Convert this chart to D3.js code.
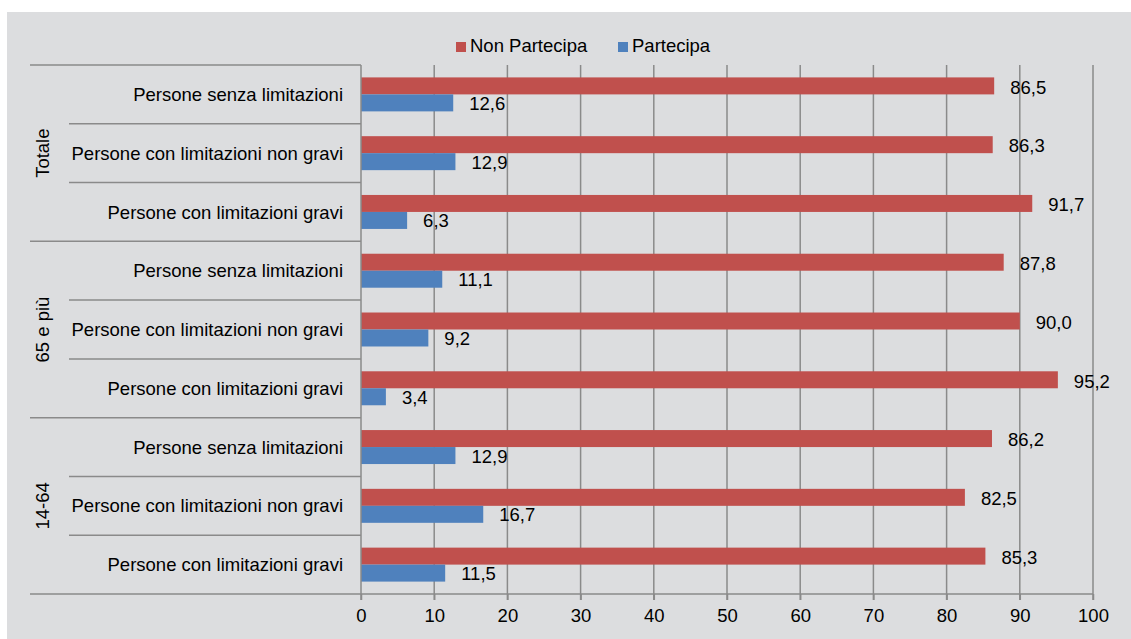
<!DOCTYPE html>
<html>
<head>
<meta charset="utf-8">
<script src="https://cdn.jsdelivr.net/npm/d3@7"></script>
<style>
  html, body { margin: 0; padding: 0; background: #ffffff; }
  svg { display: block; }
  text { font-family: "Liberation Sans", Arial, sans-serif; fill: #000; }
</style>
</head>
<body>
<svg id="chart" width="1131" height="639"></svg>
<script>
const groups = ["Totale", "65 e più", "14-64"];
const categories = [
  "Persone senza limitazioni",
  "Persone con limitazioni non gravi",
  "Persone con limitazioni gravi"
];
const seriesNames = ["Non Partecipa", "Partecipa"];
const seriesColors = ["#c0504d", "#4f81bd"];
const nonPartecipa = [86.5, 86.3, 91.7, 87.8, 90.0, 95.2, 86.2, 82.5, 85.3];
const partecipa    = [12.6, 12.9, 6.3, 11.1, 9.2, 3.4, 12.9, 16.7, 11.5];
const xTicks = [0, 10, 20, 30, 40, 50, 60, 70, 80, 90, 100];

(function () {
const rows = [];
groups.forEach((g, gi) => categories.forEach((c, ci) => {
  const i = gi * categories.length + ci;
  rows.push({ id: i, group: g, label: c, values: [nonPartecipa[i], partecipa[i]] });
}));

const svg = d3.select("#chart");
const W = 1131, H = 639;
const pL = 361, pR = 1093, pT = 65, pB = 594;
const fs = 18.5;
const gridColor = "#8a8a8a";

svg.append("rect").attr("x", 7).attr("y", 12).attr("width", W - 7).attr("height", H - 12).attr("fill", "#dcdddf");

const x = d3.scaleLinear().domain([0, 100]).range([pL, pR]);
const y = d3.scaleBand().domain(rows.map(d => d.id)).range([pT, pB]).paddingInner(0).paddingOuter(0);
const ySub = d3.scaleBand().domain([0, 1]).range([0, y.bandwidth()]).paddingInner(0).paddingOuter(0.73);

// gridlines
svg.append("g").selectAll("line").data(xTicks.filter(t => t > 0)).join("line")
  .attr("x1", d => x(d)).attr("x2", d => x(d))
  .attr("y1", pT).attr("y2", pB + 6)
  .attr("stroke", gridColor).attr("stroke-width", 1.5);

// bars
const rowG = svg.append("g").selectAll("g").data(rows).join("g")
  .attr("transform", d => `translate(0,${y(d.id)})`);
rowG.selectAll("rect").data(d => d.values.map((v, k) => ({ v, k }))).join("rect")
  .attr("x", x(0)).attr("y", d => ySub(d.k))
  .attr("width", d => x(d.v) - x(0)).attr("height", ySub.bandwidth())
  .attr("fill", d => seriesColors[d.k]);
rowG.selectAll("text.val").data(d => d.values.map((v, k) => ({ v, k }))).join("text")
  .attr("class", "val")
  .attr("x", d => x(d.v) + 16).attr("y", d => ySub(d.k) + ySub.bandwidth() / 2)
  .attr("dy", d => d.k === 0 ? "0.42em" : "0.38em")
  .attr("font-size", fs)
  .text(d => d.v.toFixed(1).replace(".", ","));

// category labels
svg.append("g").selectAll("text").data(rows).join("text")
  .attr("x", pL - 18).attr("y", d => y(d.id) + y.bandwidth() / 2)
  .attr("dy", "0.36em").attr("text-anchor", "end").attr("font-size", fs)
  .text(d => d.label);

// separators (category axis ticks)
const boundaries = d3.range(rows.length + 1);
svg.append("g").selectAll("line").data(boundaries).join("line")
  .attr("x1", i => (i % categories.length === 0) ? 30 : 69)
  .attr("x2", pL)
  .attr("y1", i => i < rows.length ? y(i) : pB)
  .attr("y2", i => i < rows.length ? y(i) : pB)
  .attr("stroke", gridColor).attr("stroke-width", 1.5);

// group labels
svg.append("g").selectAll("text").data(groups).join("text")
  .attr("transform", (g, gi) => {
    const cy = (y(gi * 3) + (gi * 3 + 3 < rows.length ? y(gi * 3 + 3) : pB)) / 2;
    return `translate(42,${cy}) rotate(-90)`;
  })
  .attr("text-anchor", "middle").attr("dy", "0.36em").attr("font-size", fs)
  .text(d => d);

// x axis
const xAxis = d3.axisBottom(x).tickValues(xTicks).tickSize(6).tickPadding(9);
const ax = svg.append("g").attr("transform", `translate(0,${pB})`).call(xAxis);
ax.select(".domain").attr("stroke", gridColor).attr("stroke-width", 1.5).attr("d", `M${pL},0H${pR}`);
ax.selectAll(".tick line").attr("stroke", gridColor).attr("stroke-width", 1.5);
ax.selectAll(".tick text").attr("font-size", fs).attr("font-family", "Liberation Sans, Arial, sans-serif").attr("fill", "#000");

// y axis line
svg.append("line").attr("x1", pL).attr("x2", pL).attr("y1", pT).attr("y2", pB + 6)
  .attr("stroke", gridColor).attr("stroke-width", 1.5);

// legend
const legX = [456, 618];
const leg = svg.append("g").selectAll("g").data(seriesNames).join("g")
  .attr("transform", (d, i) => `translate(${legX[i]},42)`);
leg.append("rect").attr("width", 10).attr("height", 10).attr("fill", (d, i) => seriesColors[i]);
leg.append("text").attr("x", 14).attr("y", 10).attr("font-size", fs).text(d => d);
})();
</script>
</body>
</html>
